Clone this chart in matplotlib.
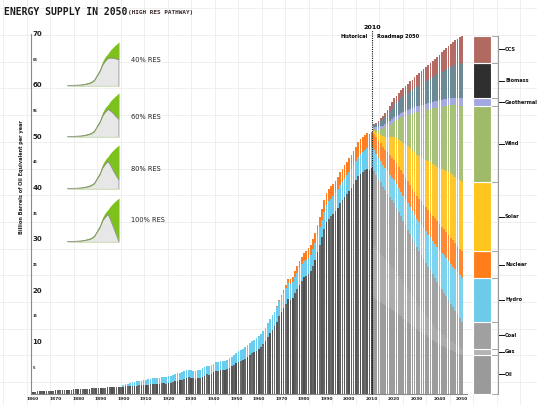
import numpy as np
import matplotlib
matplotlib.use("Agg")
import matplotlib.pyplot as plt
from matplotlib.lines import Line2D

# ---------------- data ----------------
hist_start = 1860
fossil_hist = [
    0.35, 0.37, 0.40, 0.42, 0.45, 0.48, 0.50, 0.53, 0.56, 0.58,
    0.60, 0.62, 0.65, 0.67, 0.68, 0.70, 0.72, 0.75, 0.78, 0.82,
    0.85, 0.88, 0.90, 0.92, 0.95, 0.97, 1.00, 1.03, 1.07, 1.10,
    1.12, 1.14, 1.16, 1.18, 1.20, 1.22, 1.25, 1.27, 1.30, 1.32,
    1.35, 1.38, 1.40, 1.43, 1.46, 1.50, 1.55, 1.60, 1.62, 1.65,
    1.70, 1.75, 1.80, 1.85, 1.80, 1.85, 1.90, 1.95, 1.95, 1.90,
    2.10, 2.05, 2.20, 2.40, 2.50, 2.60, 2.70, 2.85, 3.00, 3.15,
    3.10, 2.95, 2.85, 2.95, 3.10, 3.30, 3.50, 3.70, 3.65, 3.85,
    4.10, 4.30, 4.40, 4.50, 4.60, 4.50, 4.70, 5.00, 5.30, 5.50,
    5.90, 6.20, 6.40, 6.60, 6.80, 7.20, 7.50, 7.80, 8.00, 8.30,
    8.60, 9.00, 9.60, 10.20, 11.00, 11.70, 12.40, 13.10, 14.00, 15.00,
    15.80, 16.60, 17.50, 18.40, 18.30, 18.60, 19.60, 20.40, 21.20, 22.00,
    22.60, 22.80, 23.20, 23.80, 24.80, 26.00, 27.50, 29.00, 30.50, 32.00,
    33.30, 34.00, 34.50, 35.00, 35.50, 36.20, 37.00, 37.60, 38.20, 38.80,
    39.50, 40.00, 40.70, 41.50, 42.30, 42.80, 43.20, 43.60, 43.80, 43.50,
    44.00]
hydro_hist_start = 1900
hydro_hist = [
    0.3, 0.4, 0.5, 0.6, 0.7, 0.75, 0.8, 0.85, 0.9, 0.95,
    1.0, 1.05, 1.1, 1.15, 1.15, 1.2, 1.2, 1.25, 1.25, 1.3,
    1.3, 1.3, 1.35, 1.35, 1.4, 1.4, 1.45, 1.45, 1.5, 1.5,
    1.5, 1.5, 1.5, 1.55, 1.55, 1.6, 1.6, 1.65, 1.65, 1.7,
    1.7, 1.75, 1.75, 1.8, 1.8, 1.8, 1.85, 1.9, 1.9, 1.95,
    2.0, 2.05, 2.1, 2.15, 2.2, 2.25, 2.3, 2.35, 2.4, 2.45,
    2.5, 2.55, 2.6, 2.65, 2.7, 2.75, 2.8, 2.85, 2.9, 2.95,
    3.0, 3.02, 3.04, 3.06, 3.08, 3.1, 3.12, 3.14, 3.16, 3.18,
    3.2, 3.22, 3.24, 3.26, 3.28, 3.3, 3.32, 3.34, 3.36, 3.38,
    3.4, 3.43, 3.46, 3.49, 3.52, 3.55, 3.58, 3.61, 3.64, 3.67,
    3.7, 3.73, 3.76, 3.79, 3.82, 3.85, 3.88, 3.91, 3.94, 3.97,
    4.0]
nuclear_hist_start = 1968
nuclear_hist = [
    0.1, 0.2,
    0.3, 0.45, 0.6, 0.75, 0.9, 1.0, 1.1, 1.2, 1.35, 1.45,
    1.6, 1.7, 1.8, 1.9, 1.95, 2.0, 2.05, 2.1, 2.15, 2.2,
    2.3, 2.33, 2.36, 2.4, 2.44, 2.48, 2.52, 2.56, 2.6, 2.65,
    2.7, 2.73, 2.76, 2.79, 2.82, 2.85, 2.88, 2.91, 2.94, 2.97,
    3.0]

future_start = 2011
oil_f = [18.5, 18.3, 18.0, 17.8, 17.5, 17.2, 16.9, 16.6, 16.3, 16.0,
         15.7, 15.3, 15.0, 14.6, 14.3, 13.9, 13.6, 13.2, 12.9, 12.5,
         12.2, 11.9, 11.6, 11.3, 11.0, 10.7, 10.4, 10.1, 9.8, 9.5,
         9.3, 9.1, 8.9, 8.7, 8.5, 8.3, 8.1, 7.9, 7.7, 7.5]
gas_f = [10.0, 9.8, 9.6, 9.4, 9.2, 9.0, 8.8, 8.6, 8.4, 8.2,
         7.9, 7.6, 7.3, 7.0, 6.7, 6.4, 6.1, 5.8, 5.5, 5.2,
         4.9, 4.6, 4.3, 4.0, 3.7, 3.4, 3.1, 2.8, 2.6, 2.4,
         2.3, 2.2, 2.0, 1.9, 1.8, 1.7, 1.5, 1.4, 1.3, 1.2]
coal_f = [14.8, 14.5, 14.2, 13.9, 13.6, 13.4, 13.2, 13.0, 12.9, 12.8,
          12.6, 12.4, 12.2, 12.0, 11.8, 11.6, 11.4, 11.2, 11.0, 10.8,
          10.6, 10.5, 10.3, 10.2, 10.0, 9.9, 9.7, 9.6, 9.3, 9.1,
          8.7, 8.3, 8.0, 7.6, 7.2, 6.8, 6.5, 6.1, 5.7, 5.3]
hydro_f = [4.05, 4.1, 4.15, 4.2, 4.25, 4.3, 4.35, 4.4, 4.45, 4.5,
           4.6, 4.7, 4.8, 4.9, 5.0, 5.1, 5.2, 5.3, 5.4, 5.5,
           5.65, 5.8, 5.95, 6.1, 6.25, 6.4, 6.55, 6.7, 6.85, 7.0,
           7.15, 7.3, 7.45, 7.6, 7.75, 7.9, 8.05, 8.2, 8.35, 8.5]
nuclear_f = [3.1, 3.2, 3.3, 3.4, 3.5, 3.6, 3.7, 3.8, 3.9, 4.0,
             4.05, 4.1, 4.15, 4.2, 4.25, 4.3, 4.35, 4.4, 4.45, 4.5,
             4.55, 4.6, 4.65, 4.7, 4.75, 4.8, 4.85, 4.9, 4.95, 5.0,
             5.02, 5.04, 5.06, 5.08, 5.1, 5.12, 5.14, 5.16, 5.18, 5.2]
solar_f = [0.6, 0.9, 1.2, 1.6, 2.0, 2.5, 3.0, 3.5, 4.0, 4.5,
           4.9, 5.3, 5.7, 6.1, 6.5, 6.8, 7.1, 7.4, 7.7, 8.0,
           8.3, 8.6, 8.9, 9.2, 9.5, 9.8, 10.1, 10.4, 10.7, 11.0,
           11.3, 11.6, 11.9, 12.2, 12.5, 12.7, 12.9, 13.1, 13.3, 13.5]
wind_f = [0.4, 0.6, 0.9, 1.2, 1.5, 1.8, 2.1, 2.4, 2.7, 3.0,
          3.5, 4.0, 4.6, 5.1, 5.6, 6.1, 6.7, 7.2, 7.8, 8.3,
          8.7, 9.0, 9.4, 9.7, 10.1, 10.4, 10.8, 11.1, 11.5, 11.8,
          12.1, 12.4, 12.7, 13.0, 13.3, 13.6, 13.9, 14.2, 14.5, 14.8]
geo_f = [0.35, 0.4, 0.45, 0.5, 0.55, 0.6, 0.65, 0.7, 0.75, 0.8,
         0.83, 0.86, 0.89, 0.92, 0.95, 0.98, 1.01, 1.04, 1.07, 1.1,
         1.12, 1.14, 1.16, 1.18, 1.2, 1.22, 1.24, 1.26, 1.28, 1.3,
         1.32, 1.34, 1.36, 1.38, 1.4, 1.42, 1.44, 1.46, 1.48, 1.5]
bio_f = [0.5, 0.7, 0.9, 1.1, 1.3, 1.5, 1.75, 2.0, 2.25, 2.5,
         2.63, 2.76, 2.89, 3.02, 3.15, 3.28, 3.41, 3.54, 3.67, 3.8,
         3.95, 4.1, 4.25, 4.4, 4.55, 4.7, 4.85, 5.0, 5.15, 5.3,
         5.45, 5.6, 5.75, 5.9, 6.05, 6.2, 6.35, 6.5, 6.65, 6.8]
ccs_f = [0.15, 0.25, 0.35, 0.45, 0.55, 0.65, 0.8, 0.95, 1.1, 1.2,
         1.3, 1.4, 1.5, 1.6, 1.7, 1.8, 1.9, 2.0, 2.15, 2.3,
         2.43, 2.56, 2.69, 2.82, 2.95, 3.08, 3.21, 3.34, 3.47, 3.6,
         3.78, 3.96, 4.14, 4.32, 4.5, 4.68, 4.86, 5.04, 5.22, 5.4]

legend_names = ["Oil", "Gas", "Coal", "Hydro", "Nuclear", "Solar", "Wind",
                "Geothermal", "Biomass", "CCS"]

# inset scenario data
ins_years = [1860, 1880, 1900, 1920, 1940, 1950, 1960, 1970, 1980, 1990,
             2000, 2010, 2020, 2030, 2040, 2050]
ins_total = [0.4, 0.9, 1.6, 3.5, 5.8, 7.8, 11.0, 19.0, 26.5, 39.0,
             46.5, 51.5, 57.5, 62.0, 66.0, 69.7]
ins_fossil_hist = [0.4, 0.9, 1.3, 2.0, 3.8, 5.5, 8.5, 15.8, 22.6, 33.3,
                   39.5, 44.0]
ins_labels = ["40% RES", "60% RES", "80% RES", "100% RES"]
ins_fossil_future = [
    [44.5, 44.0, 43.0, 41.8],
    [41.0, 37.0, 32.0, 27.9],
    [37.0, 28.5, 21.0, 14.0],
    [34.0, 23.0, 12.0, 0.0],
]

yticks_major = [10, 20, 30, 40, 50, 60, 70]
yticks_minor = [5, 15, 25, 35, 45, 55, 65]
xticks = list(range(1860, 2051, 10))

# ---------------- figure ----------------
W, H = 537, 405
fig = plt.figure(figsize=(W / 100, H / 100), dpi=100)
fig.patch.set_facecolor("white")

# background graph-paper grid
for k in range(24):
    xp = 3 + 23.5 * k
    fig.add_artist(Line2D([xp / W, xp / W], [0, 1], color="#ececec", lw=0.6, zorder=-5))
for k in range(16):
    yp = 8.3 + 26.7 * k
    fig.add_artist(Line2D([0, 1], [1 - yp / H, 1 - yp / H], color="#ececec", lw=0.6, zorder=-5))

PXY = 2.258   # px per year
PXV = 5.136   # px per unit
x0px, y0px = 33, 393.5


def xd(px):
    return 1860 + (px - x0px) / PXY


def yd(py):
    return (y0px - py) / PXV


ax = fig.add_axes([31 / W, (H - y0px) / H, (W - 31) / W, (y0px - 34) / H])
ax.patch.set_alpha(0)
ax.set_xlim(xd(31), xd(537))
ax.set_ylim(0, 70)
for s in ["top", "right", "bottom"]:
    ax.spines[s].set_visible(False)
ax.spines["left"].set_color("#8a8a8a")
ax.spines["left"].set_linewidth(0.8)
ax.set_xticks([])
ax.set_yticks([])

bw = 0.74
# history
hy = np.arange(hist_start, hist_start + len(fossil_hist))
fossil_h = np.array(fossil_hist)
hydro_h = np.zeros(len(hy))
hydro_h[hydro_hist_start - hist_start:] = hydro_hist
nuc_h = np.zeros(len(hy))
nuc_h[nuclear_hist_start - hist_start:] = nuclear_hist
gray_cycle = ["#4e4e4e", "#5e5e5e", "#6a6a6a", "#575757", "#636363"]
hcols = [gray_cycle[i % len(gray_cycle)] for i in range(len(hy))]
ax.bar(hy, fossil_h, width=bw, color=hcols, linewidth=0, zorder=2)
ax.bar(hy, hydro_h, bottom=fossil_h, width=bw, color="#68cdee", linewidth=0, zorder=2)
ax.bar(hy, nuc_h, bottom=fossil_h + hydro_h, width=bw, color="#ff7e22", linewidth=0, zorder=2)

# future
fy = np.arange(future_start, future_start + len(oil_f))
layers = [oil_f, gas_f, coal_f, hydro_f, nuclear_f, solar_f, wind_f, geo_f, bio_f, ccs_f]
chart_cols = ["#9c9c9c", "#acacac", "#a3a3a3", "#7cd3f0", "#ff8834", "#ffc72b",
              "#a8c179", "#a4a9df", "#6c8996", "#b46b65"]
bottom = np.zeros(len(fy))
for vals, c in zip(layers, chart_cols):
    v = np.array(vals)
    ax.bar(fy, v, bottom=bottom, width=bw, color=c, linewidth=0, zorder=2)
    bottom = bottom + v

# x axis line
ax.plot([xd(31), xd(467)], [0, 0], color="#8a8a8a", lw=0.8, zorder=3, clip_on=False)

# y tick labels (inside, right of spine)
for v in yticks_major:
    ax.text(xd(32.5), v, str(v), fontsize=5, fontweight="bold", ha="left", va="center",
            color="#222", clip_on=False, zorder=4)
for v in yticks_minor:
    ax.text(xd(33), v, str(v), fontsize=2.5, fontweight="bold", ha="left", va="center",
            color="#222", clip_on=False, zorder=4)
# x tick labels
for yr in xticks:
    ax.text(yr, yd(399.5), str(yr), fontsize=3.2, fontweight="bold", ha="center", va="center",
            color="#222", clip_on=False)

# y-axis label
fig.text(22 / W, 1 - 177 / H, "Billion Barrels of Oil Equivalent per year", rotation=90,
         fontsize=3.6, fontweight="bold", ha="center", va="center", color="#222")

# title
fig.text(4 / W, 1 - 12 / H, "ENERGY SUPPLY IN 2050", fontsize=7, fontweight="bold",
         family="DejaVu Sans Mono", ha="left", va="center", color="#1a1a1a")
fig.text(128 / W, 1 - 12.5 / H, "(HIGH RES PATHWAY)", fontsize=4.3, fontweight="bold",
         family="DejaVu Sans Mono", ha="left", va="center", color="#3a2a2a")

# 2010 divider
ax.plot([2010, 2010], [0, yd(30)], color="#111", lw=0.8, ls=(0, (1, 1)), clip_on=False, zorder=5)
ax.text(2010.4, yd(27), "2010", fontsize=4.6, fontweight="bold", ha="center", va="center",
        clip_on=False)
ax.text(xd(367.5), yd(36), "Historical", fontsize=3.6, fontweight="bold", ha="right",
        va="center", clip_on=False)
ax.text(xd(377), yd(36), "Roadmap 2050", fontsize=3.6, fontweight="bold", ha="left",
        va="center", clip_on=False)

# legend bar (2050 composition)
leg_cols = ["#9a9a9a", "#b3b3b3", "#a0a0a0", "#6dcbea", "#ff7d1a", "#ffc51c",
            "#9fbb6a", "#a3a9e0", "#2f2f2f", "#b06a62"]
lx = (xd(473) + xd(491)) / 2
lw_ = xd(491) - xd(473)
bot = 0.0
bxl = xd(498)
for name, vals, c in zip(legend_names, layers, leg_cols):
    v = vals[-1]
    ax.bar(lx, v, bottom=bot, width=lw_, color=c, edgecolor="white", linewidth=0.8, zorder=2)
    mid = bot + v / 2
    ax.plot([bxl, xd(504)], [mid, mid], color="#111", lw=0.7, clip_on=False, zorder=4)
    ax.text(xd(505), mid, name, fontsize=3.6, fontweight="bold", ha="left", va="center",
            clip_on=False, color="#111")
    bot += v
    ax.plot([xd(492), bxl], [bot, bot], color="#9a9a9a", lw=0.6, clip_on=False, zorder=4)
ax.plot([xd(492), bxl], [0, 0], color="#9a9a9a", lw=0.6, clip_on=False, zorder=4)
ax.plot([bxl, bxl], [0, bot], color="#9a9a9a", lw=0.8, clip_on=False, zorder=4)

# insets
baselines = [86, 137, 189, 242]
label_y = [60, 117, 169, 220]
for i, (yb, lab) in enumerate(zip(baselines, ins_labels)):
    ia = fig.add_axes([67 / W, (H - yb) / H, 52 / W, 48 / H])
    ia.patch.set_alpha(0)
    gray = ins_fossil_hist + ins_fossil_future[i]
    ia.fill_between(ins_years, 0, ins_total, color="#7cc11c", linewidth=0)
    ia.fill_between(ins_years, 0, gray, color="#e7e7e7", linewidth=0)
    ia.plot(ins_years + [ins_years[-1]], gray + [0], color="#8c8c8c", lw=0.6)
    ia.plot([ins_years[0], ins_years[-1]], [0, 0], color="#8c8c8c", lw=0.8)
    ia.set_xlim(1860, 2050)
    ia.set_ylim(0, 76)
    ia.axis("off")
    fig.text(131 / W, 1 - label_y[i] / H, lab, fontsize=4.8, ha="left", va="center",
             color="#222")

fig.savefig("out.png", dpi=100, facecolor="white")
